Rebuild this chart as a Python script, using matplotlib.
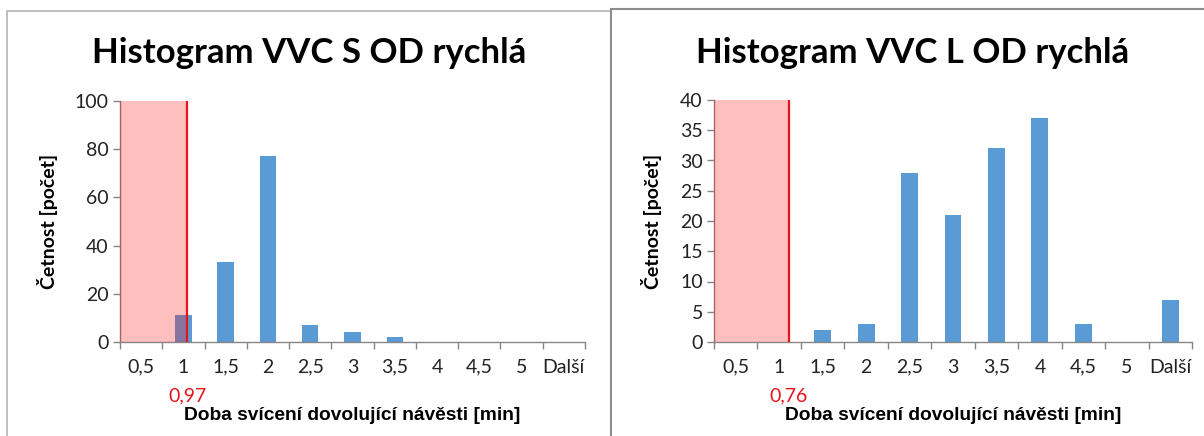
import numpy as np
import matplotlib.pyplot as plt
from matplotlib.patches import Rectangle
from matplotlib.transforms import blended_transform_factory

# Histogram bins (upper bounds) and counts
bins = ["0,5", "1", "1,5", "2", "2,5", "3", "3,5", "4", "4,5", "5", "Další"]
counts_s = [0, 11, 33, 77, 7, 4, 2, 0, 0, 0, 0]
counts_l = [0, 0, 2, 3, 28, 21, 32, 37, 3, 0, 7]

titles = ["Histogram VVC S OD rychlá", "Histogram VVC L OD rychlá"]
limit_labels = ["0,97", "0,76"]
limit_pos = [1.59, 1.72]          # position of the threshold line on the category axis
y_max = [100, 40]
y_step = [20, 5]

W, H = 1204, 436
fig = plt.figure(figsize=(W / 100, H / 100), dpi=100)
fig.patch.set_facecolor("white")

def fx(px):
    return px / W

def fy(py):
    return 1 - py / H

# panel frames
fig.add_artist(Rectangle((fx(7), fy(470)), fx(611 - 7), fy(10.5) - fy(470),
                         transform=fig.transFigure, fill=False,
                         edgecolor="#b4b4b4", lw=1.2))
fig.add_artist(Rectangle((fx(611), fy(470)), fx(640), fy(9.5) - fy(470),
                         transform=fig.transFigure, fill=False,
                         edgecolor="#8c8c8c", lw=1.5))

axes_px = [(120, 585, 101, 342), (714, 1192, 100, 342)]
title_x = [309, 913]
ylabel_x = [48, 652]

bar_color = "#5B9BD5"
axis_color = "#868686"
tick_font = "Lato"

for i, counts in enumerate([counts_s, counts_l]):
    x0, x1, yt, yb = axes_px[i]
    ax = fig.add_axes([fx(x0), fy(yb), fx(x1 - x0), fy(yt) - fy(yb)])
    n = len(bins)
    centers = np.arange(n) + 0.5
    ax.bar(centers, counts, width=0.39, color=bar_color, zorder=2)
    ax.axvspan(0, limit_pos[i], color="red", alpha=0.25, lw=0, zorder=3)
    ax.axvline(limit_pos[i], color="#e8141b", lw=1.6, zorder=4)

    ax.set_xlim(0, n)
    ax.set_ylim(0, y_max[i])
    ax.set_xticks(np.arange(n + 1))
    ax.set_xticklabels([])
    ax.set_xticks(centers, minor=True)
    ax.set_xticklabels(bins, minor=True, fontfamily=tick_font, fontsize=14,
                       color="#222222")
    ax.tick_params(axis="x", which="major", length=5, color=axis_color, width=1)
    ax.tick_params(axis="x", which="minor", length=0, pad=12)
    ax.set_yticks(np.arange(0, y_max[i] + 1, y_step[i]))
    ax.tick_params(axis="y", length=5, color=axis_color, width=1, pad=3,
                   labelsize=14, labelcolor="#222222")
    for lab in ax.get_yticklabels():
        lab.set_fontfamily(tick_font)
    for side in ["top", "right"]:
        ax.spines[side].set_visible(False)
    for side in ["left", "bottom"]:
        ax.spines[side].set_color(axis_color)
        ax.spines[side].set_linewidth(1)

    tr = blended_transform_factory(ax.transData, fig.transFigure)
    ax.text(limit_pos[i], fy(396), limit_labels[i], transform=tr,
            ha="center", va="center", color="#e8141b",
            fontfamily=tick_font, fontsize=14)

    fig.text(fx(title_x[i]), fy(53), titles[i], ha="center", va="center",
             fontfamily="Lato", fontweight="bold", fontsize=25)
    fig.text(fx((x0 + x1) / 2), fy(415), "Doba svícení dovolující návěsti [min]",
             ha="center", va="center", fontfamily="Liberation Sans",
             fontweight="bold", fontsize=13.8)
    fig.text(fx(ylabel_x[i]), fy((yt + yb) / 2), "Četnost [počet]", rotation=90,
             ha="center", va="center", fontfamily="Lato", fontweight="bold",
             fontsize=14)

fig.savefig("out.png", dpi=100)
